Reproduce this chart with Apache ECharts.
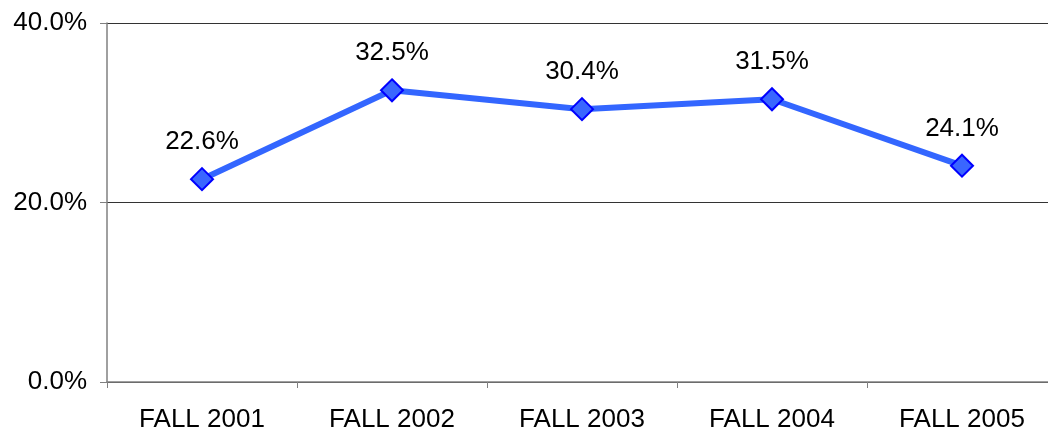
<!DOCTYPE html>
<html>
<head>
<meta charset="UTF-8">
<title>Fall rates</title>
<script src="https://cdn.jsdelivr.net/npm/echarts@6/dist/echarts.min.js"></script>
<style>
  html, body { margin: 0; padding: 0; background: #fff; }
  #chart { width: 1048px; height: 432px; }
</style>
</head>
<body>
<div id="chart"></div>
<script>
// data
var terms = ['FALL 2001', 'FALL 2002', 'FALL 2003', 'FALL 2004', 'FALL 2005'];
var rates = [22.6, 32.5, 30.4, 31.5, 24.1];

var chart = echarts.init(document.getElementById('chart'));
chart.setOption({
    animation: false,
    grid: { left: 107, top: 23, right: -9, bottom: 50, outerBoundsMode: 'none' },
    xAxis: {
        type: 'category',
        data: terms,
        boundaryGap: true,
        axisLine: { lineStyle: { color: '#808080', width: 1.5 } },
        axisTick: { show: true, length: 6, lineStyle: { color: '#808080' } },
        axisLabel: { color: '#000', fontSize: 26, fontFamily: 'Liberation Sans', margin: 25 }
    },
    yAxis: {
        type: 'value',
        min: 0, max: 40, interval: 20,
        axisLine: { show: true, lineStyle: { color: '#808080', width: 1.5 } },
        axisTick: { show: true, length: 7, lineStyle: { color: '#808080' } },
        axisLabel: {
            color: '#000', fontSize: 26, fontFamily: 'Liberation Sans', margin: 20,
            formatter: function (v) { return v.toFixed(1) + '%'; }
        },
        splitLine: { lineStyle: { color: '#333', width: 1 } }
    },
    series: [{
        type: 'line',
        data: rates,
        symbol: 'diamond',
        symbolSize: 22,
        lineStyle: { color: '#3366ff', width: 6 },
        itemStyle: { color: '#3a66ff', borderColor: '#0000ff', borderWidth: 2 },
        label: {
            show: true, position: 'top', distance: 12,
            color: '#000', fontSize: 26, fontFamily: 'Liberation Sans',
            formatter: function (p) { return p.value.toFixed(1) + '%'; }
        }
    }]
});
</script>
</body>
</html>
